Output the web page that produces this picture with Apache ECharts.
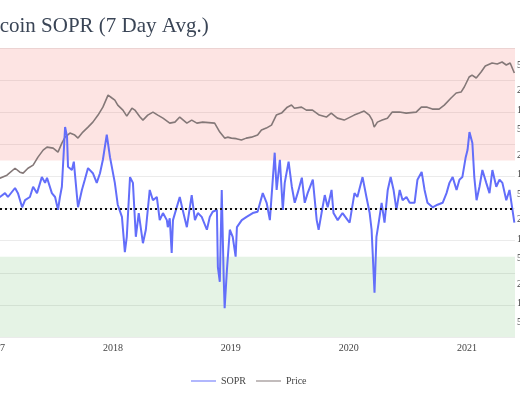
<!DOCTYPE html>
<html>
<head>
<meta charset="utf-8">
<script src="https://cdn.jsdelivr.net/npm/echarts@6/dist/echarts.min.js"></script>
<style>html,body{margin:0;padding:0;background:#fff}#c{width:520px;height:400px}</style>
</head>
<body>
<div id="c"></div>
<script>
const titleText = 'Bitcoin SOPR (7 Day Avg.)';
const priceTicks = [5,10,20,50,100,200,500,1000,2000,5000,10000,20000,50000];

const soprDates = ['2017-01-03','2017-01-16','2017-02-01','2017-02-10','2017-03-04','2017-03-13','2017-03-26','2017-04-04','2017-04-19','2017-04-29','2017-05-11','2017-05-26','2017-06-05','2017-06-11','2017-06-26','2017-07-06','2017-07-15','2017-07-21','2017-07-27','2017-08-06','2017-08-12','2017-08-15','2017-08-27','2017-09-02','2017-09-12','2017-09-15','2017-09-27','2017-10-06','2017-10-16','2017-10-31','2017-11-12','2017-11-22','2017-12-01','2017-12-13','2017-12-23','2018-01-07','2018-01-16','2018-01-29','2018-02-07','2018-02-13','2018-02-23','2018-03-04','2018-03-13','2018-03-22','2018-04-04','2018-04-13','2018-04-25','2018-05-05','2018-05-17','2018-05-26','2018-06-05','2018-06-17','2018-06-20','2018-06-26','2018-07-02','2018-07-06','2018-07-27','2018-08-05','2018-08-18','2018-09-02','2018-09-12','2018-09-21','2018-10-03','2018-10-19','2018-10-28','2018-11-06','2018-11-19','2018-11-22','2018-11-28','2018-12-04','2018-12-10','2018-12-13','2018-12-20','2018-12-29','2019-01-07','2019-01-16','2019-01-20','2019-02-04','2019-02-19','2019-03-10','2019-03-25','2019-04-10','2019-04-22','2019-05-02','2019-05-17','2019-05-23','2019-06-02','2019-06-11','2019-06-17','2019-06-29','2019-07-09','2019-07-18','2019-07-27','2019-08-09','2019-08-18','2019-08-27','2019-09-12','2019-09-24','2019-09-30','2019-10-09','2019-10-19','2019-10-28','2019-11-09','2019-11-15','2019-11-28','2019-12-13','2019-12-29','2020-01-04','2020-01-19','2020-01-28','2020-02-13','2020-02-25','2020-03-06','2020-03-12','2020-03-21','2020-03-27','2020-04-03','2020-04-12','2020-04-21','2020-05-01','2020-05-10','2020-05-19','2020-05-28','2020-06-07','2020-06-16','2020-06-28','2020-07-08','2020-07-23','2020-08-01','2020-08-14','2020-08-23','2020-09-01','2020-09-17','2020-10-02','2020-10-18','2020-10-30','2020-11-08','2020-11-18','2020-11-30','2020-12-09','2020-12-18','2020-12-28','2021-01-03','2021-01-09','2021-01-18','2021-01-24','2021-01-31','2021-02-09','2021-02-18','2021-03-02','2021-03-12','2021-03-21','2021-04-02','2021-04-12','2021-04-21','2021-05-03','2021-05-13','2021-05-28'];
const soprValues = [1.020,1.018,1.024,1.018,1.032,1.024,1.002,1.013,1.018,1.034,1.024,1.049,1.040,1.048,1.024,1.018,0.998,1.018,1.034,1.127,1.112,1.065,1.060,1.073,1.018,1.002,1.029,1.045,1.063,1.055,1.040,1.055,1.076,1.115,1.080,1.040,1.006,0.987,0.932,0.956,1.049,1.040,0.956,0.993,0.946,0.967,1.029,1.013,1.018,0.982,0.993,0.982,0.971,0.985,0.931,0.982,1.018,0.998,0.971,1.021,0.982,0.993,0.987,0.967,0.987,0.995,0.998,0.909,0.886,1.029,0.893,0.845,0.904,0.967,0.956,0.925,0.971,0.982,0.987,0.993,0.995,1.024,1.009,0.982,1.087,1.029,1.076,0.998,1.040,1.073,1.034,1.009,1.024,1.048,1.009,1.024,1.045,0.982,0.967,0.993,1.021,1.002,1.029,0.993,0.982,0.993,0.982,0.978,1.024,1.018,1.049,1.018,0.993,0.967,0.869,0.956,0.978,1.009,0.978,1.029,1.049,1.029,0.998,1.029,1.013,1.018,1.009,1.009,1.045,1.057,1.029,1.009,1.002,1.006,1.009,1.024,1.040,1.049,1.029,1.045,1.049,1.079,1.091,1.119,1.102,1.049,1.013,1.034,1.060,1.040,1.024,1.060,1.034,1.045,1.040,1.013,1.029,0.978];

const priceDates = ['2017-01-03','2017-01-16','2017-02-07','2017-03-04','2017-03-19','2017-03-29','2017-04-13','2017-04-29','2017-05-14','2017-05-30','2017-06-11','2017-06-30','2017-07-15','2017-07-27','2017-08-06','2017-08-21','2017-09-05','2017-09-15','2017-09-30','2017-10-16','2017-10-31','2017-11-16','2017-12-01','2017-12-17','2017-12-29','2018-01-07','2018-01-16','2018-02-01','2018-02-13','2018-03-01','2018-03-10','2018-03-26','2018-04-04','2018-04-19','2018-05-05','2018-05-20','2018-06-05','2018-06-26','2018-07-12','2018-07-27','2018-08-18','2018-09-02','2018-09-18','2018-10-06','2018-11-12','2018-11-28','2018-12-13','2018-12-22','2019-01-03','2019-01-18','2019-02-03','2019-02-18','2019-03-06','2019-03-25','2019-04-06','2019-04-21','2019-05-07','2019-05-22','2019-06-07','2019-06-25','2019-07-08','2019-07-17','2019-08-08','2019-08-23','2019-09-11','2019-10-02','2019-10-24','2019-11-08','2019-11-27','2019-12-18','2020-01-18','2020-02-03','2020-02-18','2020-03-05','2020-03-14','2020-03-20','2020-03-30','2020-04-14','2020-04-30','2020-05-15','2020-06-06','2020-06-27','2020-07-28','2020-08-13','2020-08-31','2020-09-16','2020-10-07','2020-10-23','2020-11-13','2020-11-29','2020-12-14','2020-12-24','2021-01-08','2021-01-17','2021-01-30','2021-02-14','2021-02-27','2021-03-05','2021-03-20','2021-04-05','2021-04-20','2021-05-03','2021-05-15','2021-05-28'];
const priceValues = [1000,875,975,1250,1085,1050,1250,1400,1860,2390,2660,2570,2230,3070,3800,4400,4090,3670,4550,5440,6500,8360,11100,17100,15400,14300,11960,10000,8070,10700,10000,7800,6990,8360,9310,8360,7500,6280,6500,7800,6280,6990,6280,6500,6280,4550,3670,3800,3670,3600,3420,3670,3800,4090,4900,5250,5850,8360,8980,11100,11960,10700,11100,10000,10000,8360,7800,8980,7500,6990,8360,8980,9650,8360,6990,5440,6500,6990,7500,9310,9310,8980,9310,11100,11100,10360,10360,11960,15400,18400,19040,22800,32600,35000,31500,39000,48300,46800,53800,52000,55800,50100,53800,37700];

const serif = '"Liberation Serif","Times New Roman",serif';
const soprData = soprDates.map((d, i) => [d, soprValues[i]]);
const priceData = priceDates.map((d, i) => [d, priceValues[i]]);
const YEAR = 365 * 24 * 3600 * 1000;

const chart = echarts.init(document.getElementById('c'));
chart.setOption({
  animation: false,
  title: {
    text: titleText, left: -31, top: 11,
    textStyle: { fontFamily: serif, fontSize: 21, fontWeight: 'normal', color: '#3a4556' }
  },
  legend: {
    bottom: 9, left: 186, itemWidth: 25, itemHeight: 8, itemGap: 10,
    textStyle: { fontFamily: serif, fontSize: 10, color: '#444' },
    data: [{ name: 'SOPR', icon: 'path://M0,4 L25,4 L25,5 L0,5 Z' }, { name: 'Price', icon: 'path://M0,4 L25,4 L25,5 L0,5 Z' }]
  },
  grid: { left: -15, right: 5, top: 48, bottom: 63, containLabel: false, outerBoundsMode: 'none' },
  xAxis: {
    type: 'time', min: '2016-12-01', max: '2021-05-30',
    minInterval: YEAR, maxInterval: YEAR * 1.01,
    axisLine: { show: false }, axisTick: { show: false }, splitLine: { show: false },
    axisLabel: {
      formatter: '{yyyy}', showMinLabel: false, showMaxLabel: false,
      fontFamily: serif, fontSize: 10, color: '#444', margin: 6
    }
  },
  yAxis: [
    {
      type: 'value', min: 0.8, max: 1.25, interval: 0.05,
      axisLabel: { show: false }, axisLine: { show: false }, axisTick: { show: false },
      splitLine: { lineStyle: { color: '#ebebeb', width: 1 } }
    },
    {
      type: 'log', min: 3, max: 92000, logBase: 10, position: 'right',
      axisLine: { show: false }, axisTick: { show: false }, splitLine: { show: false },
      axisLabel: {
        customValues: priceTicks,
        formatter: v => v >= 1000 ? (v / 1000) + 'k' : String(v),
        fontFamily: serif, fontSize: 10, color: '#444', margin: 2
      }
    }
  ],
  series: [
    {
      name: 'SOPR', type: 'line', yAxisIndex: 0, data: soprData,
      showSymbol: false, symbol: 'none',
      lineStyle: { color: '#636efa', width: 2 }, itemStyle: { color: '#636efa' },
      z: 3,
      markArea: {
        silent: true,
        data: [
          [{ yAxis: 1.075, itemStyle: { color: 'rgba(245,90,80,0.16)' } }, { yAxis: 1.25 }],
          [{ yAxis: 0.8, itemStyle: { color: 'rgba(70,170,70,0.14)' } }, { yAxis: 0.925 }]
        ]
      },
      markLine: {
        silent: true, symbol: 'none', label: { show: false },
        lineStyle: { color: '#111', type: [2, 3], width: 2 },
        data: [{ yAxis: 1 }]
      }
    },
    {
      name: 'Price', type: 'line', yAxisIndex: 1, data: priceData,
      showSymbol: false, symbol: 'none',
      lineStyle: { color: '#847878', width: 1.6 }, itemStyle: { color: '#847878' },
      z: 2
    }
  ]
});
</script>
</body>
</html>
